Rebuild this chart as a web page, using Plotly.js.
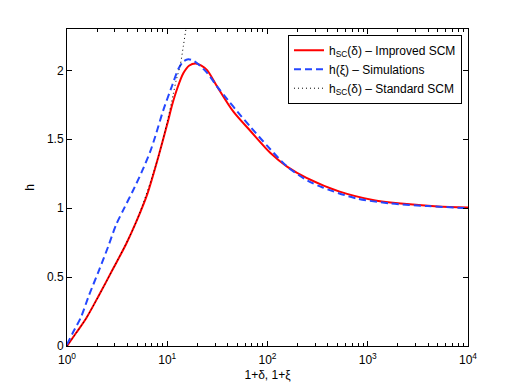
<!DOCTYPE html>
<html>
<head>
<meta charset="utf-8">
<script src="https://cdn.plot.ly/plotly-3.0.1.min.js"></script>
<style>html,body{margin:0;padding:0;background:#fff}#chart{width:518px;height:390px}</style>
</head>
<body>
<div id="chart"></div>
<script>
// Improved SCM  h_SC(delta)
const improvedX = [1, 1.23, 1.55, 2.09, 2.88, 3.89, 4.9, 6.31, 8.13, 10, 11.2, 12.6, 14.5, 16.6, 19.1, 21.9, 25.1, 31.6, 45.7, 67.6, 107, 158, 245, 525, 1122, 2455, 5012, 10000];
const improvedY = [0, 0.094, 0.20, 0.37, 0.56, 0.74, 0.90, 1.10, 1.37, 1.61, 1.75, 1.87, 1.98, 2.035, 2.05, 2.035, 2.0, 1.88, 1.70, 1.56, 1.40, 1.30, 1.22, 1.12, 1.06, 1.03, 1.013, 1.005];
// Simulations h(xi)
const simX = [1, 1.14, 1.38, 1.66, 2.09, 2.57, 3.09, 3.72, 4.57, 5.62, 6.76, 7.59, 9.12, 11.2, 12.9, 14.5, 16.2, 18.2, 20, 25.1, 31.6, 39.8, 50.1, 67.6, 100, 158, 251, 355, 776, 1660, 3981, 10000];
const simY = [0.01, 0.094, 0.21, 0.37, 0.55, 0.72, 0.88, 1.00, 1.13, 1.27, 1.41, 1.52, 1.71, 1.89, 2.01, 2.065, 2.08, 2.07, 2.05, 1.98, 1.88, 1.79, 1.70, 1.59, 1.45, 1.30, 1.20, 1.15, 1.07, 1.035, 1.015, 1.0];
// Standard SCM
const standardX = [1, 1.55, 2.88, 4.9, 8.13, 10, 11.5, 12.3, 13.5, 14.5, 15.5, 16.6];
const standardY = [0, 0.20, 0.56, 0.90, 1.37, 1.63, 1.83, 1.93, 2.04, 2.18, 2.32, 2.48];

const xTickVals = [1, 10, 100, 1000, 10000];
const xTickText = ['10<sup>0</sup>', '10<sup>1</sup>', '10<sup>2</sup>', '10<sup>3</sup>', '10<sup>4</sup>'];
const yTickVals = [0, 0.5, 1, 1.5, 2];
const yTickText = ['0', '0.5', '1', '1.5', '2'];
const seriesNames = ['h<sub>SC</sub>(δ) – Improved SCM', 'h(ξ) – Simulations', 'h<sub>SC</sub>(δ) – Standard SCM'];

const minorVals = [];
[1, 10, 100, 1000].forEach(d => { for (let k = 2; k <= 9; k++) minorVals.push(d * k); });

const traces = [
  {x: improvedX, y: improvedY, name: seriesNames[0], mode: 'lines',
   line: {color: '#ff0000', width: 2, shape: 'spline', smoothing: 0.8}},
  {x: simX, y: simY, name: seriesNames[1], mode: 'lines',
   line: {color: '#2447ff', width: 2, dash: '7px,4px', shape: 'spline', smoothing: 0.8}},
  {x: standardX, y: standardY, name: seriesNames[2], mode: 'lines',
   line: {color: '#000000', width: 1, dash: '1px,3px', shape: 'spline', smoothing: 0.8}}
];

const fontFam = 'Liberation Sans, Arial, Helvetica, sans-serif';
const layout = {
  width: 518, height: 390,
  margin: {l: 67, r: 50, t: 29, b: 44},
  paper_bgcolor: '#fff', plot_bgcolor: '#fff',
  font: {family: fontFam, size: 12, color: '#000'},
  showlegend: true,
  xaxis: {
    type: 'log', range: [0, 4],
    tickvals: xTickVals, ticktext: xTickText,
    ticks: 'inside', ticklen: 5, tickcolor: '#000', tickwidth: 1,
    ticklabelstandoff: 3,
    minor: {tickvals: minorVals, ticks: 'inside', ticklen: 3, tickcolor: '#000', showgrid: false},
    showline: true, linecolor: '#000', linewidth: 1, mirror: 'ticks',
    showgrid: false, zeroline: false,
    tickfont: {family: fontFam, size: 12},
    title: {text: '1+δ, 1+ξ', font: {family: fontFam, size: 12}, standoff: 4}
  },
  yaxis: {
    range: [0, 2.3],
    tickvals: yTickVals, ticktext: yTickText,
    ticks: 'inside', ticklen: 5, tickcolor: '#000', tickwidth: 1,
    showline: true, linecolor: '#000', linewidth: 1, mirror: 'ticks',
    showgrid: false, zeroline: false,
    tickfont: {family: fontFam, size: 12},
    title: {text: 'h', font: {family: fontFam, size: 12}, standoff: 9}
  },
  legend: {
    x: 0.985, y: 0.982, xanchor: 'right', yanchor: 'top',
    bgcolor: '#fff', bordercolor: '#000', borderwidth: 1,
    font: {family: fontFam, size: 12},
    tracegroupgap: 0
  }
};

Plotly.newPlot('chart', traces, layout, {displayModeBar: false, staticPlot: true});
</script>
</body>
</html>
